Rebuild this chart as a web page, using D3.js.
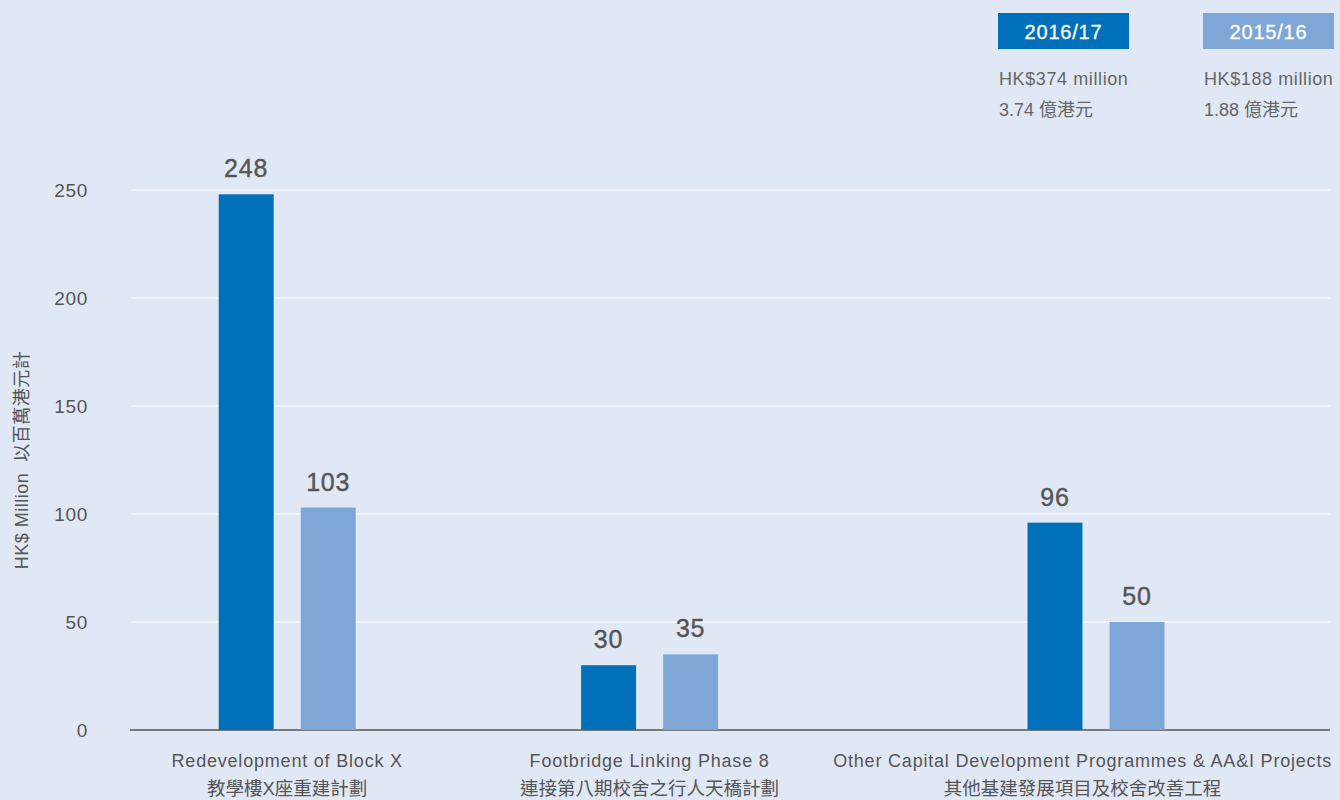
<!DOCTYPE html>
<html><head><meta charset="utf-8">
<script src="https://cdn.jsdelivr.net/npm/d3@7"></script>
<style>
html,body{margin:0;padding:0;background:#e1e8f5;}
svg{display:block;font-family:"Liberation Sans","Noto Sans CJK TC",sans-serif;}
</style></head>
<body><svg id="c" width="1340" height="800"></svg>
<script>
const categoriesEn = ["Redevelopment of Block X", "Footbridge Linking Phase 8", "Other Capital Development Programmes & AA&I Projects"];
const categoriesZh = ["教學樓X座重建計劃", "連接第八期校舍之行人天橋計劃", "其他基建發展項目及校舍改善工程"];
const seriesNames = ["2016/17", "2015/16"];
const values2016 = [248, 30, 96];
const values2015 = [103, 35, 50];
const totalsEn = ["HK$374 million", "HK$188 million"];
const totalsZh = ["3.74 億港元", "1.88 億港元"];
const yTicks = [0, 50, 100, 150, 200, 250];
const yTitle = "HK$ Million  以百萬港元計";

(function () {
const colors = ["#0070bb", "#7ea7d8"];
const svg = d3.select("#c");
const mLeft = 130, mRight = 1330, mTop = 190, mBottom = 730;

const y = d3.scaleLinear().domain([0, 250]).range([mBottom, mTop]);
// group centre positions as fractions of plot width (layout)
const xc = d3.scaleOrdinal().domain(categoriesEn).range([0.131, 0.433, 0.805].map(f => mLeft + f * (mRight - mLeft)));
const x1 = d3.scaleBand().domain(seriesNames).range([-68.5, 68.5]).paddingInner(0.33);

// gridlines
svg.append("g").selectAll("line").data(yTicks.filter(d => d > 0)).join("line")
  .attr("x1", mLeft).attr("x2", mRight).attr("y1", d => y(d)).attr("y2", d => y(d))
  .attr("stroke", "#ffffff").attr("stroke-width", 1.2);

// y axis labels
const yAxis = d3.axisLeft(y).tickValues(yTicks).tickSize(0).tickPadding(0);
const ga = svg.append("g").attr("transform", "translate(88,0)").call(yAxis);
ga.select(".domain").remove();
ga.selectAll("text").attr("font-size", 19).attr("letter-spacing", 0.7).attr("fill", "#555")
  .attr("font-family", "Liberation Sans");

// zero line
svg.append("line").attr("x1", mLeft).attr("x2", mRight).attr("y1", y(0)).attr("y2", y(0))
  .attr("stroke", "#555").attr("stroke-width", 1.5);

// y title
svg.append("text").attr("transform", `translate(28,${(mTop + mBottom) / 2}) rotate(-90)`)
  .attr("text-anchor", "middle").attr("font-size", 18).attr("letter-spacing", 0.5)
  .attr("fill", "#555").attr("xml:space", "preserve").text(yTitle);

// bars
const data = [];
categoriesEn.forEach((c, i) => {
  data.push({cat: c, s: seriesNames[0], v: values2016[i], col: colors[0]});
  data.push({cat: c, s: seriesNames[1], v: values2015[i], col: colors[1]});
});
svg.append("g").selectAll("rect").data(data).join("rect")
  .attr("x", d => xc(d.cat) + x1(d.s)).attr("width", x1.bandwidth())
  .attr("y", d => y(d.v)).attr("height", d => y(0) - y(d.v))
  .attr("fill", d => d.col);
svg.append("g").selectAll("text").data(data).join("text")
  .attr("x", d => xc(d.cat) + x1(d.s) + x1.bandwidth() / 2)
  .attr("y", d => y(d.v) - 17)
  .attr("text-anchor", "middle").attr("font-size", 25).attr("letter-spacing", 0.8)
  .attr("fill", "#555").attr("stroke", "#555").attr("stroke-width", 0.4)
  .text(d => d.v);

// category labels
categoriesEn.forEach((c, i) => {
  let cx = xc(c);
  const g = svg.append("g");
  const t1 = g.append("text").attr("y", 767).attr("text-anchor", "middle").attr("font-size", 18)
    .attr("letter-spacing", 0.8).attr("fill", "#555").text(c);
  const t2 = g.append("text").attr("y", 795).attr("text-anchor", "middle").attr("font-size", 18.5)
    .attr("fill", "#555").text(categoriesZh[i]);
  const w = Math.max(t1.node().getComputedTextLength(), t2.node().getComputedTextLength());
  if (cx + w / 2 > 1332) cx = 1332 - w / 2;
  t1.attr("x", cx); t2.attr("x", cx);
});

// legend
const lx = [998, 1203];
seriesNames.forEach((s, i) => {
  svg.append("rect").attr("x", lx[i]).attr("y", 13).attr("width", 131).attr("height", 36).attr("fill", colors[i]);
  svg.append("text").attr("x", lx[i] + 65.5).attr("y", 38.5).attr("text-anchor", "middle")
    .attr("font-size", 20).attr("letter-spacing", 0.8).attr("fill", "#fff")
    .attr("stroke", "#fff").attr("stroke-width", 0.3).text(s);
  svg.append("text").attr("x", lx[i] + 1).attr("y", 85).attr("font-size", 18).attr("letter-spacing", 0.6)
    .attr("fill", "#666").text(totalsEn[i]);
  svg.append("text").attr("x", lx[i] + 1).attr("y", 116).attr("font-size", 18).attr("fill", "#666").text(totalsZh[i]);
});
})();
</script></body></html>
